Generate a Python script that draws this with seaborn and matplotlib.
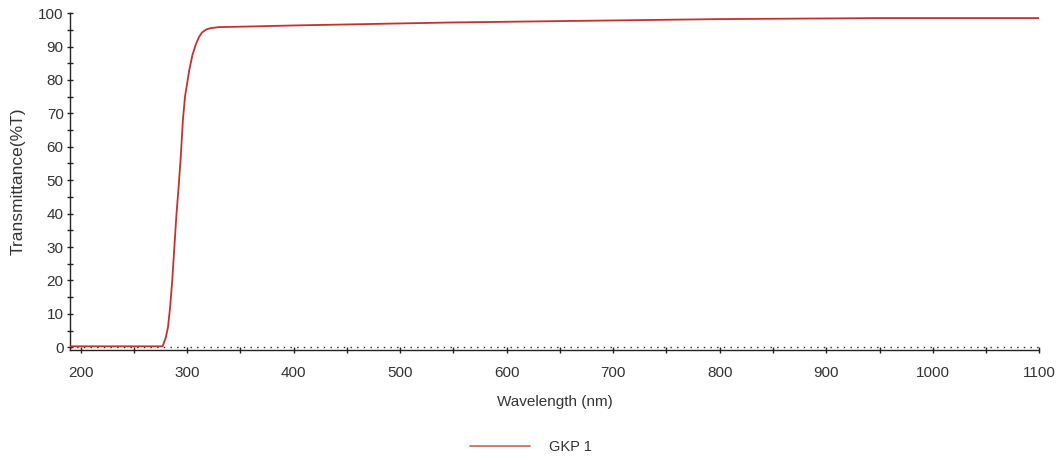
import numpy as np
import pandas as pd
import matplotlib
matplotlib.use("Agg")
import matplotlib.pyplot as plt
from matplotlib.ticker import MultipleLocator
from matplotlib.lines import Line2D
import seaborn as sns

# --- data ---
wavelength = [190, 277, 280, 282, 284, 286, 288, 290, 292, 294, 296, 298, 300,
              302, 305, 308, 311, 314, 318, 322, 330, 360, 400, 450, 500, 550,
              600, 650, 700, 750, 800, 850, 900, 950, 1000, 1050, 1100]
transmittance = [0.3, 0.3, 3, 6, 12, 20, 30, 40, 48, 57, 68, 75, 79,
                 83, 87.5, 90.5, 92.8, 94.2, 95.1, 95.5, 95.8, 96.0, 96.3, 96.6, 96.9, 97.2,
                 97.4, 97.6, 97.8, 98.0, 98.2, 98.3, 98.4, 98.5, 98.5, 98.5, 98.5]
series_name = "GKP 1"
x_label = "Wavelength (nm)"
y_label = "Transmittance(%T)"

df = pd.DataFrame({"Wavelength": wavelength, "T": transmittance, "Sample": series_name})

sns.set_style("ticks")
plt.rcParams["font.family"] = ["Liberation Sans", "DejaVu Sans"]

fig = plt.figure(figsize=(10.62, 4.59), dpi=100)
ax = fig.add_axes([0.0659, 0.2375, 0.9127, 0.734])

ax.axhline(0, color="#222222", lw=1.0, ls=(0, (1, 3.8)), zorder=1)
sns.lineplot(data=df, x="Wavelength", y="T", hue="Sample",
             palette=["#c8302e"], lw=1.3, ax=ax, legend=False, zorder=3)

ax.set_xlim(190, 1100)
ax.set_ylim(-0.8, 100)
ax.xaxis.set_major_locator(MultipleLocator(100))
ax.xaxis.set_minor_locator(MultipleLocator(50))
ax.yaxis.set_major_locator(MultipleLocator(10))
ax.yaxis.set_minor_locator(MultipleLocator(5))
ax.set_xticks(range(200, 1101, 100))
ax.tick_params(which="both", direction="inout", length=5, width=1,
               color="#222222", labelsize=11, labelcolor="#333333")
ax.tick_params(axis="x", pad=9)
ax.tick_params(axis="y", pad=2)

for s in ["top", "right"]:
    ax.spines[s].set_visible(False)
for s in ["left", "bottom"]:
    ax.spines[s].set_color("#222222")
    ax.spines[s].set_linewidth(1.0)
ax.spines["left"].set_bounds(-0.8, 100)

ax.set_xlabel(x_label, fontsize=11, color="#333333", labelpad=11)
ax.set_ylabel(y_label, fontsize=12.5, color="#333333", labelpad=9)

handle = Line2D([], [], color="#d0604a", lw=1.2)
fig.legend([handle], [series_name], loc="center", bbox_to_anchor=(0.5, 0.027),
           frameon=False, fontsize=10.5, handlelength=4.1, handletextpad=1.3,
           labelcolor="#333333")

fig.savefig("out.png", dpi=100)
